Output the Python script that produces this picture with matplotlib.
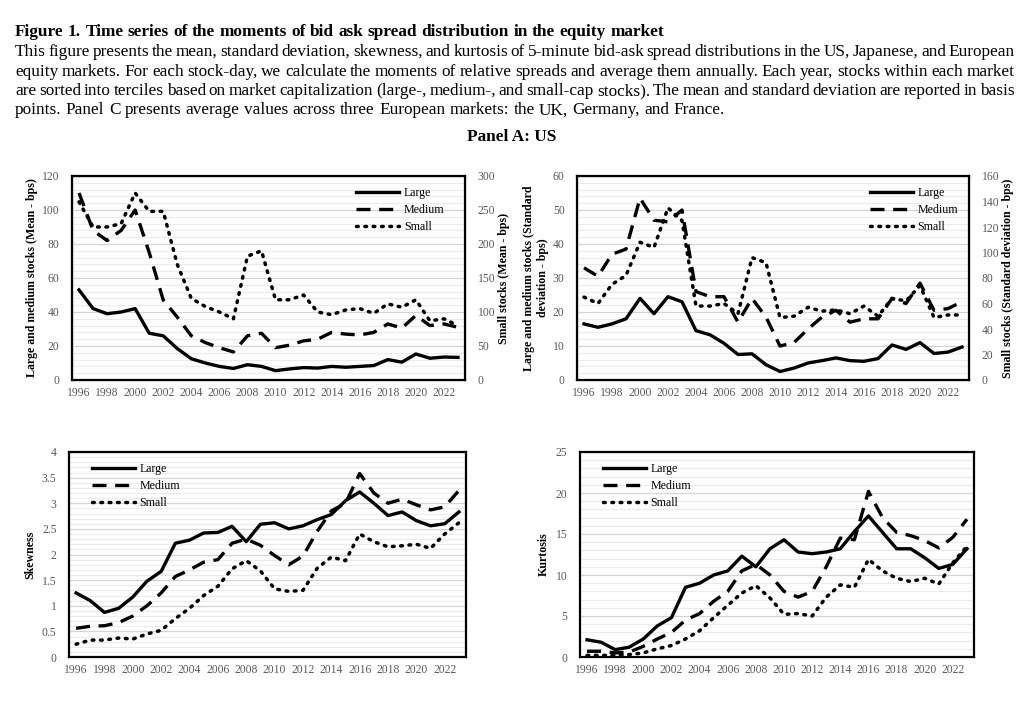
import numpy as np
import matplotlib
matplotlib.use('Agg')
import matplotlib.pyplot as plt
from matplotlib.ticker import MultipleLocator

plt.rcParams['font.family'] = ['Liberation Serif', 'DejaVu Serif']

# 数据
years = list(range(1996, 2024))

mean_large = [53, 42, 39, 40, 42, 27.5, 26, 18.5, 12.5, 10, 8, 6.8, 9, 8, 5.5, 6.5, 7.3, 7,
              8, 7.5, 8, 8.5, 12, 10.5, 15.3, 12.8, 13.5, 13.3]
mean_medium = [110, 88, 82, 88, 100, 75, 47, 37, 26, 22, 19, 16.5, 26, 27.5, 19, 20.5, 23, 24,
               28, 27, 26.5, 28, 33, 30.5, 38, 32, 33, 31]
mean_small = [262, 225, 225, 230, 275, 248, 248, 170, 120, 108, 100, 90, 182, 190, 118, 118, 125, 100,
              96, 103, 105, 98, 112, 107, 118, 87, 90, 80]

std_large = [16.5, 15.5, 16.5, 18, 24, 19.5, 24.5, 23, 14.5, 13.3, 10.8, 7.5, 7.7, 4.5, 2.5, 3.5, 5, 5.7,
             6.5, 5.7, 5.5, 6.3, 10.3, 9, 11, 7.8, 8.2, 9.7]
std_medium = [33, 30.5, 37, 38.5, 53.5, 47, 46.5, 50, 26, 24.5, 24.5, 17, 24, 18.5, 10, 11, 15, 18.5,
              20.5, 17, 18, 18, 24, 22.5, 28.5, 20.5, 21, 23]
std_small = [65, 60, 75, 82, 108, 104, 135, 125, 58, 58, 60, 52, 96, 92, 49, 50, 57, 54,
             55, 52, 58, 50, 64, 62, 74, 49, 51, 51]

skew_large = [1.25, 1.1, 0.87, 0.95, 1.17, 1.48, 1.67, 2.22, 2.28, 2.42, 2.43, 2.55, 2.25, 2.59, 2.62, 2.5,
              2.56, 2.68, 2.78, 3.05, 3.22, 3.0, 2.76, 2.83, 2.66, 2.56, 2.6, 2.83]
skew_medium = [0.56, 0.6, 0.61, 0.67, 0.8, 1.0, 1.25, 1.57, 1.7, 1.85, 1.9, 2.22, 2.3, 2.18, 1.98, 1.8,
               1.97, 2.45, 2.85, 3.0, 3.58, 3.2, 3.0, 3.08, 2.97, 2.87, 2.93, 3.25]
skew_small = [0.25, 0.33, 0.33, 0.37, 0.35, 0.45, 0.52, 0.75, 0.95, 1.2, 1.38, 1.72, 1.88, 1.68, 1.33, 1.28,
              1.3, 1.73, 1.95, 1.88, 2.4, 2.25, 2.15, 2.17, 2.2, 2.12, 2.4, 2.62]

kurt_large = [2.1, 1.8, 0.9, 1.2, 2.2, 3.8, 4.8, 8.5, 9.0, 10.0, 10.5, 12.3, 11.0, 13.2, 14.3, 12.8,
              12.6, 12.8, 13.2, 15.3, 17.2, 15.2, 13.2, 13.2, 12.1, 10.8, 11.3, 13.2]
kurt_medium = [0.7, 0.7, 0.5, 0.6, 1.3, 2.2, 3.0, 4.5, 5.3, 6.8, 8.0, 10.5, 11.3, 10.0, 8.0, 7.3,
               8.0, 11.0, 14.5, 14.3, 20.2, 17.0, 15.2, 14.8, 14.2, 13.3, 14.6, 16.8]
kurt_small = [0.2, 0.2, 0.2, 0.3, 0.5, 1.0, 1.4, 2.2, 3.2, 4.8, 6.3, 7.8, 8.7, 7.2, 5.2, 5.3,
              5.0, 7.3, 8.8, 8.5, 11.9, 10.5, 9.6, 9.2, 9.6, 8.9, 11.5, 13.5]

title = "Figure 1. Time series of the moments of bid ask spread distribution in the equity market"
caption = [
    "This figure presents the mean, standard deviation, skewness, and kurtosis of 5-minute bid-ask spread distributions in the US, Japanese, and European",
    "equity markets. For each stock-day, we calculate the moments of relative spreads and average them annually. Each year, stocks within each market",
    "are sorted into terciles based on market capitalization (large-, medium-, and small-cap stocks). The mean and standard deviation are reported in basis",
    "points. Panel C presents average values across three European markets: the UK, Germany, and France.",
]

W, H = 1024, 714
fig = plt.figure(figsize=(W / 100, H / 100), dpi=100)
renderer = fig.canvas.get_renderer()

STYLES = {
    'Large': dict(linestyle='-', lw=2.4, color='black'),
    'Medium': dict(linestyle=(0, (4.2, 2.6)), lw=2.4, color='black'),
    'Small': dict(linestyle=(0, (0.5, 1.9)), lw=2.5, color='black', dash_capstyle='round'),
}
TICK_COLOR = '#595959'
TXT = 12.4
TICK = 8.4


def justified(words_line, y, x0, x1, size, weight='normal', justify=True):
    # 逐词放置实现两端对齐
    words = words_line.split(' ')
    texts = [fig.text(0, 1 - y / H, w, fontsize=size, fontweight=weight, va='center', ha='left')
             for w in words]
    widths = [t.get_window_extent(renderer).width for t in texts]
    sp = fig.text(0, 0, 'a a', fontsize=size, fontweight=weight)
    sp2 = fig.text(0, 0, 'aa', fontsize=size, fontweight=weight)
    space = sp.get_window_extent(renderer).width - sp2.get_window_extent(renderer).width
    sp.remove(); sp2.remove()
    if justify and len(words) > 1:
        gap = (x1 - x0 - sum(widths)) / (len(words) - 1)
    else:
        gap = space
    x = x0
    for t, w in zip(texts, widths):
        t.set_x(x / W)
        x += w + gap


def make_axes(box):
    l, r, t, b = box
    return fig.add_axes([l / W, 1 - b / H, (r - l) / W, (b - t) / H])


def style_axes(ax, ymax, major, minor):
    ax.set_xlim(1995.5, 2023.5)
    ax.set_ylim(0, ymax)
    ax.set_xticks(range(1996, 2024, 2))
    ax.yaxis.set_major_locator(MultipleLocator(major))
    ax.yaxis.set_minor_locator(MultipleLocator(minor))
    ax.grid(axis='y', which='major', color='#d4d4d4', lw=0.9)
    ax.grid(axis='y', which='minor', color='#ebebeb', lw=0.8)
    ax.set_axisbelow(True)
    for s in ax.spines.values():
        s.set_linewidth(1.6)
        s.set_color('black')
    ax.tick_params(axis='both', which='both', length=0, labelsize=TICK, labelcolor=TICK_COLOR)
    ax.tick_params(axis='y', pad=9)
    ax.tick_params(axis='x', pad=5)


def draw(ax, series, ax2=None):
    handles = []
    for name, vals, target in series:
        tgt = ax2 if target == 2 else ax
        h, = tgt.plot(years, vals, label=name, **STYLES[name])
        handles.append(h)
    return handles


# 标题和说明文字
justified(title, 32, 15, 0, TXT, weight='bold', justify=False)
for i, line in enumerate(caption):
    justified(line, 52 + i * 19.5, 15, 1015, TXT, justify=(i < 3))
fig.text(0.5, 1 - 137 / H, "Panel A: US", fontsize=TXT, fontweight='bold', ha='center', va='center')

leg_kw = dict(frameon=False, fontsize=8.6, handlelength=3.6, labelspacing=0.45, handletextpad=0.4)
lab_kw = dict(fontsize=8.6, fontweight='bold')

# 均值
ax1 = make_axes((72, 465, 176, 380))
style_axes(ax1, 120, 20, 4)
ax1r = ax1.twinx()
ax1r.set_ylim(0, 300)
ax1r.yaxis.set_major_locator(MultipleLocator(50))
ax1r.tick_params(axis='y', length=0, labelsize=TICK, labelcolor=TICK_COLOR, pad=9)
h = draw(ax1, [('Large', mean_large, 1), ('Medium', mean_medium, 1), ('Small', mean_small, 2)], ax1r)
ax1.set_ylabel("Large and medium stocks (Mean - bps)", labelpad=3, **lab_kw)
ax1r.set_ylabel("Small stocks (Mean - bps)", rotation=90, labelpad=2, **lab_kw)
ax1r.legend(handles=h, loc='upper right', bbox_to_anchor=(0.975, 1.0), **leg_kw)

# 标准差
ax2 = make_axes((577, 969, 176, 380))
style_axes(ax2, 60, 10, 2)
ax2r = ax2.twinx()
ax2r.set_ylim(0, 160)
ax2r.yaxis.set_major_locator(MultipleLocator(20))
ax2r.tick_params(axis='y', length=0, labelsize=TICK, labelcolor=TICK_COLOR, pad=9)
h = draw(ax2, [('Large', std_large, 1), ('Medium', std_medium, 1), ('Small', std_small, 2)], ax2r)
ax2.set_ylabel("Large and medium stocks (Standard\ndeviation - bps)", labelpad=3, **lab_kw)
ax2r.set_ylabel("Small stocks (Standard deviation - bps)", rotation=90, labelpad=2, **lab_kw)
ax2r.legend(handles=h, loc='upper right', bbox_to_anchor=(1.0, 1.0), **leg_kw)

# 偏度
ax3 = make_axes((69, 466, 452, 657))
style_axes(ax3, 4, 0.5, 0.1)
ax3.set_yticks(np.arange(0, 4.01, 0.5))
ax3.set_yticklabels(['0', '0.5', '1', '1.5', '2', '2.5', '3', '3.5', '4'])
h = draw(ax3, [('Large', skew_large, 1), ('Medium', skew_medium, 1), ('Small', skew_small, 1)])
ax3.set_ylabel("Skewness", labelpad=4, **lab_kw)
ax3.legend(handles=h, loc='upper left', bbox_to_anchor=(0.03, 1.0), **leg_kw)

# 峰度
ax4 = make_axes((580, 974, 452, 657))
style_axes(ax4, 25, 5, 1)
h = draw(ax4, [('Large', kurt_large, 1), ('Medium', kurt_medium, 1), ('Small', kurt_small, 1)])
ax4.set_ylabel("Kurtosis", labelpad=4, **lab_kw)
ax4.legend(handles=h, loc='upper left', bbox_to_anchor=(0.03, 1.0), **leg_kw)

fig.savefig('out.png', dpi=100)
